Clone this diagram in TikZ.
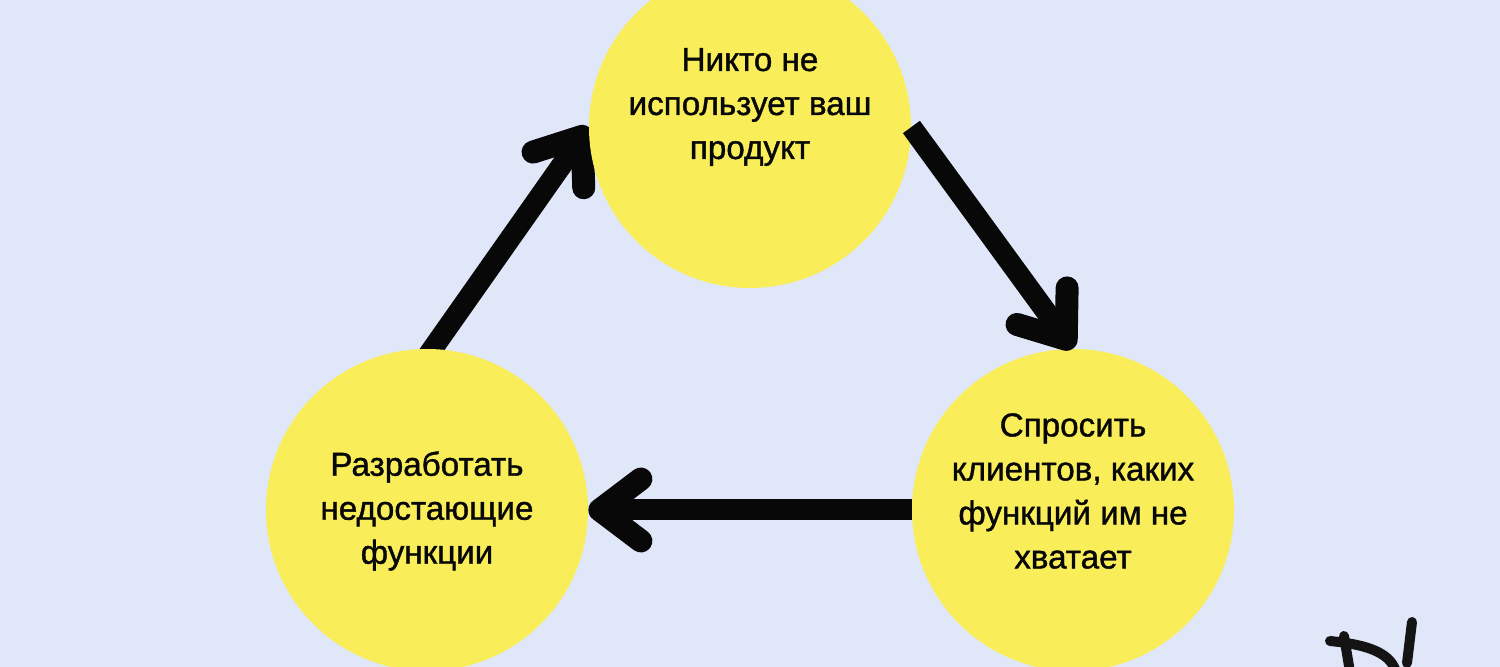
\documentclass[tikz,border=0pt]{standalone}
\usepackage{fontspec}
\setmainfont{Liberation Sans}[FakeBold=1.2]
\usetikzlibrary{arrows.meta,backgrounds}
\definecolor{bgblue}{HTML}{E0E7F9}
\definecolor{sun}{HTML}{F9EE5A}
\definecolor{ink}{HTML}{080808}
\tikzset{
  x=0.5pt,y=-0.5pt,
  bubble/.style={circle,fill=sun,minimum size=161pt,inner sep=0pt},
  caption/.style={inner sep=0pt,align=center,text=ink,
    font=\fontsize{16.6pt}{22pt}\selectfont},
  flow/.style={draw=ink,line width=10.5pt,line cap=butt,
    -{Straight Barb[length=20.5pt,width=31pt,line width=11.5pt,round]}},
  scrawl/.style={draw=ink!95!white,line width=5pt,line cap=round,line join=round}
}
\begin{document}
\begin{tikzpicture}
\useasboundingbox (0,0) rectangle (1500,667);
\begin{scope}[on background layer]
  \fill[bgblue] (0,0) rectangle (1500,667);
\end{scope}
\clip (0,0) rectangle (1500,667);
\node[bubble] (top) at (750,127) {};
\node[bubble] (right) at (1073,510) {};
\node[bubble] (left) at (427,510) {};
\node[caption] (toptext) at (750,107) {Никто не\\использует ваш\\продукт};
\node[caption] (righttext) at (1073,491) {Спросить\\клиентов, каких\\функций им не\\хватает};
\node[caption] (lefttext) at (427,511) {Разработать\\недостающие\\функции};
\draw[flow] (top.east) -- (right.north);
\draw[flow] (right.west) -- (left.east);
\begin{scope}[on background layer]
  \draw[flow,shorten <=-6pt] (left.88) -- (top.west);
\end{scope}
\draw[scrawl] (1330,641) .. controls (1360,644) and (1390,650) .. (1396,672);
\draw[scrawl] (1344,636) -- (1350,672);
\draw[scrawl] (1412,622) -- (1407,663);
\end{tikzpicture}
\end{document}
